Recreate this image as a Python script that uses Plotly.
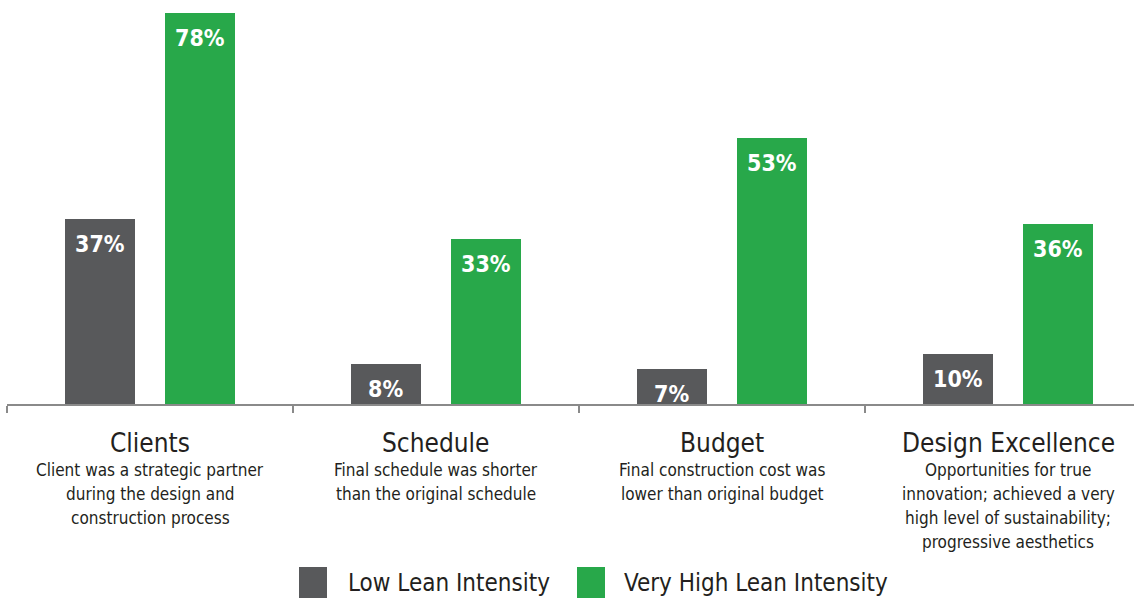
import plotly.graph_objects as go

# Survey outcomes by lean intensity (percent of projects)
categories = ["Clients", "Schedule", "Budget", "Design Excellence"]
descriptions = [
    ["Client was a strategic partner", "during the design and", "construction process"],
    ["Final schedule was shorter", "than the original schedule"],
    ["Final construction cost was", "lower than original budget"],
    ["Opportunities for true", "innovation; achieved a very",
     "high level of sustainability;", "progressive aesthetics"],
]
low_lean = [37, 8, 7, 10]
very_high_lean = [78, 33, 53, 36]
series_names = ["Low Lean Intensity", "Very High Lean Intensity"]

GRAY = "#58595b"
GREEN = "#28a84a"
TEXT = "#231f20"
FONT = "Liberation Sans Narrow, DejaVu Sans Condensed, Roboto Condensed, Arial Narrow, sans-serif"

W, H = 1134, 599
ML, MT, MB = 7, 0, 195
PLOT_H = H - MT - MB
UNIT = 286.0  # pixels per category
BAR_W = 0.245
SHIFT = 0.175

x_idx = list(range(len(categories)))

fig = go.Figure()
for vals, color, name, sign in [(low_lean, GRAY, series_names[0], -1),
                                (very_high_lean, GREEN, series_names[1], 1)]:
    fig.add_trace(go.Bar(
        x=x_idx, y=vals, name=name,
        marker=dict(color=color, line=dict(width=0)),
        width=BAR_W, offset=sign * SHIFT - BAR_W / 2,
        showlegend=False, hoverinfo="skip",
    ))
    for i, v in zip(x_idx, vals):
        fig.add_annotation(
            x=i + sign * SHIFT, y=v, xref="x", yref="y",
            text=f"<b>{v}%</b>", showarrow=False,
            yanchor="middle", yshift=-25,
            font=dict(family=FONT, size=23, color="white"),
        )


def py_to_paper(py):
    return (H - MB - py) / PLOT_H


# Category titles and descriptions below the axis
for i, (cat, lines) in enumerate(zip(categories, descriptions)):
    fig.add_annotation(
        x=i, y=py_to_paper(443), xref="x", yref="paper",
        text=cat, showarrow=False, yanchor="middle",
        font=dict(family=FONT, size=26, color=TEXT),
    )
    for k, line in enumerate(lines):
        fig.add_annotation(
            x=i, y=py_to_paper(470 + 24 * k), xref="x", yref="paper",
            text=line, showarrow=False, yanchor="middle",
            font=dict(family=FONT, size=17, color=TEXT),
        )

# Legend drawn as swatches with labels along the bottom
legend_items = [(GRAY, series_names[0], 299, 346), (GREEN, series_names[1], 577, 622)]
for color, label, sx, tx in legend_items:
    fig.add_shape(
        type="rect", xref="paper", yref="paper",
        x0=(sx - ML) / (W - ML), x1=(sx + 28 - ML) / (W - ML),
        y0=py_to_paper(598), y1=py_to_paper(567),
        fillcolor=color, line=dict(width=0),
    )
    fig.add_annotation(
        x=(tx - ML) / (W - ML), y=py_to_paper(583), xref="paper", yref="paper",
        text=label, showarrow=False, xanchor="left", yanchor="middle",
        font=dict(family=FONT, size=24, color=TEXT),
    )

fig.update_layout(
    width=W, height=H,
    margin=dict(l=ML, r=0, t=MT, b=MB),
    paper_bgcolor="white", plot_bgcolor="white",
    bargap=0,
    xaxis=dict(
        range=[-0.5, -0.5 + (W - ML) / UNIT],
        tickvals=[-0.5, 0.5, 1.5, 2.5, 3.5], ticktext=["", "", "", "", ""],
        ticks="outside", ticklen=7, tickwidth=1.5, tickcolor="#8a8a8a",
        showline=True, linecolor="#8a8a8a", linewidth=1.5,
        showgrid=False, zeroline=False, fixedrange=True,
    ),
    yaxis=dict(
        range=[0, 78 * PLOT_H / 391.0],
        visible=False, showgrid=False, zeroline=False, fixedrange=True,
    ),
)

fig.write_html("out.html")
